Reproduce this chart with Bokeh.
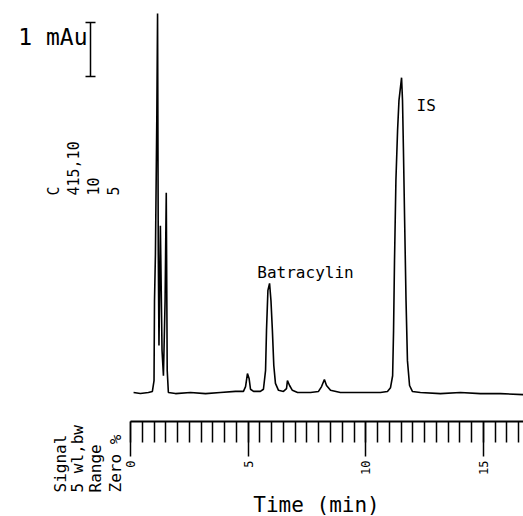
from math import pi
from bokeh.plotting import figure
from bokeh.models import Range1d, FixedTicker, Label, LinearAxis
from bokeh.embed import file_html
from bokeh.resources import INLINE

# ---- data ----
time_min = [0.13, 0.42, 0.76, 0.93, 1.00, 1.02, 1.06, 1.12, 1.15, 1.18, 1.21, 1.27, 1.34, 1.40,
            1.47, 1.52, 1.56, 1.61, 1.91, 2.55, 3.19, 3.82, 4.46, 4.80, 4.89, 4.97, 5.04, 5.10,
            5.23, 5.52, 5.65, 5.74, 5.78, 5.84, 5.91, 5.97, 6.03, 6.09, 6.16, 6.29, 6.50, 6.63,
            6.67, 6.76, 6.88, 7.10, 7.65, 7.99, 8.12, 8.24, 8.33, 8.50, 8.92, 9.77, 10.62, 10.92,
            11.05, 11.14, 11.18, 11.22, 11.28, 11.35, 11.41, 11.52, 11.56, 11.60, 11.65, 11.71,
            11.77, 11.86, 11.98, 12.32, 13.17, 14.02, 14.87, 15.72, 16.70]
absorbance_mau = [0.00, -0.02, 0.00, 0.02, 0.22, 1.70, 2.57, 5.17, 7.02, 2.63, 0.87, 3.09, 0.78, 0.31,
                  1.70, 3.70, 0.41, 0.00, -0.02, 0.00, -0.02, 0.00, 0.02, 0.02, 0.11, 0.35, 0.26, 0.06,
                  0.02, 0.02, 0.06, 0.41, 1.15, 1.89, 2.02, 1.70, 1.15, 0.50, 0.17, 0.04, 0.02, 0.07,
                  0.22, 0.13, 0.04, 0.00, 0.00, 0.02, 0.11, 0.24, 0.13, 0.04, 0.00, 0.00, 0.00, 0.02,
                  0.09, 0.31, 1.15, 2.44, 3.93, 4.85, 5.41, 5.83, 5.41, 4.48, 3.19, 1.70,
                  0.59, 0.13, 0.02, 0.00, -0.02, 0.00, -0.02, -0.02, -0.04]
x_major_ticks = [0, 5, 10, 15]
x_minor_ticks = [i * 0.5 for i in range(34)]
scale_bar_mau = 1.0
peak_names = ["Batracylin", "IS"]
header_names = ["Signal", "5 wl,bw", "Range", "Zero %"]
header_values = ["C", "415,10", "10", "5"]

# ---- pixel <-> data helpers (layout only) ----
X0, PX_PER_MIN = 130.0, 23.53
Y0, PX_PER_MAU = 392.0, 54.0
def tx(px):
    return (px - X0) / PX_PER_MIN
def ay(py):
    return (Y0 - py) / PX_PER_MAU

MONO = "DejaVu Sans Mono"

p = figure(width=523, height=516, output_backend="svg", toolbar_location=None,
           x_range=Range1d(tx(0), tx(523)), y_range=Range1d(ay(516), ay(0)),
           x_axis_location=None, y_axis_location=None,
           min_border_left=0, min_border_right=0, min_border_top=0, min_border_bottom=0)
p.outline_line_color = None
p.grid.visible = False
p.background_fill_color = "white"
p.border_fill_color = "white"

p.line(time_min, absorbance_mau, line_color="black", line_width=1.6)

# time axis pinned at its place under the trace
ax = LinearAxis(fixed_location=ay(421))
ax.ticker = FixedTicker(ticks=x_major_ticks, minor_ticks=x_minor_ticks)
ax.bounds = (0, 16.7)
ax.axis_line_width = 2
ax.axis_line_color = "black"
ax.major_tick_in = 0
ax.major_tick_out = 35
ax.minor_tick_in = 0
ax.minor_tick_out = 21
ax.major_tick_line_width = 1.5
ax.minor_tick_line_width = 1.5
ax.major_tick_line_color = "black"
ax.minor_tick_line_color = "black"
ax.major_label_orientation = pi / 2
ax.major_label_text_font = MONO
ax.major_label_text_font_size = "12px"
ax.major_label_text_color = "black"
ax.major_label_standoff = 4
p.add_layout(ax, "below")

# 1 mAu scale bar
bar_x = tx(90)
bar_top = ay(22)
p.segment(x0=[bar_x], y0=[bar_top], x1=[bar_x], y1=[bar_top - scale_bar_mau],
          line_color="black", line_width=1.5)
p.scatter(x=[bar_x, bar_x], y=[bar_top, bar_top - scale_bar_mau], marker="dash",
          size=10, line_color="black", line_width=1.5)
p.add_layout(Label(x=tx(87), y=ay(36), text="1 mAu", text_align="right",
                   text_baseline="middle", text_font=MONO, text_font_size="23px",
                   text_color="black"))

# peak labels
p.add_layout(Label(x=tx(305), y=ay(272), text=peak_names[0], text_align="center",
                   text_baseline="middle", text_font=MONO, text_font_size="16px",
                   text_color="black"))
p.add_layout(Label(x=tx(416), y=ay(105), text=peak_names[1], text_align="left",
                   text_baseline="middle", text_font=MONO, text_font_size="16px",
                   text_color="black"))

# header texts (rotated)
for name, px in zip(header_names, [60, 77, 95, 115]):
    p.add_layout(Label(x=tx(px), y=ay(492), text=name, angle=pi / 2, text_align="left",
                       text_baseline="middle", text_font=MONO, text_font_size="16px",
                       text_color="black"))
for val, px in zip(header_values, [53, 72, 92, 112]):
    p.add_layout(Label(x=tx(px), y=ay(195), text=val, angle=pi / 2, text_align="left",
                       text_baseline="middle", text_font=MONO, text_font_size="15px",
                       text_color="black"))

# axis title
p.add_layout(Label(x=tx(316), y=ay(504), text="Time (min)", text_align="center",
                   text_baseline="middle", text_font=MONO, text_font_size="21px",
                   text_color="black"))

open("out.html", "w").write(file_html(p, INLINE))
